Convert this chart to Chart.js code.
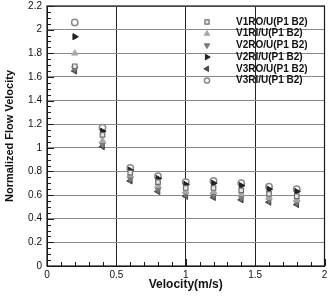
<!DOCTYPE html>
<html>
<head>
<meta charset="utf-8">
<script src="https://cdn.jsdelivr.net/npm/chart.js@4.4.1/dist/chart.umd.min.js"></script>
<style>
  html, body { margin: 0; padding: 0; background: #fff; }
  #wrap { width: 330px; height: 296px; }
</style>
</head>
<body>
<div id="wrap"><canvas id="chart" width="330" height="296"></canvas></div>
<script>
/* ---- data ---- */
const velocity = [0.2, 0.4, 0.6, 0.8, 1.0, 1.2, 1.4, 1.6, 1.8];
const v1ro = [1.69, 1.11, 0.79, 0.71, 0.66, 0.66, 0.64, 0.61, 0.59];
const v1ri = [1.80, 1.06, 0.77, 0.68, 0.63, 0.63, 0.61, 0.58, 0.56];
const v2ro = [1.67, 1.03, 0.74, 0.65, 0.61, 0.60, 0.58, 0.56, 0.54];
const v2ri = [1.94, 1.14, 0.81, 0.74, 0.69, 0.70, 0.68, 0.65, 0.63];
const v3ro = [1.65, 1.01, 0.72, 0.63, 0.59, 0.58, 0.56, 0.54, 0.52];
const v3ri = [2.06, 1.17, 0.83, 0.76, 0.71, 0.72, 0.70, 0.67, 0.65];

const seriesNames = ["V1RO/U(P1 B2)", "V1RI/U(P1 B2)", "V2RO/U(P1 B2)",
                     "V2RI/U(P1 B2)", "V3RO/U(P1 B2)", "V3RI/U(P1 B2)"];
const seriesValues = [v1ro, v1ri, v2ro, v2ri, v3ro, v3ri];

const xTicks = [0, 0.5, 1, 1.5, 2];
const yTicks = [0, 0.2, 0.4, 0.6, 0.8, 1, 1.2, 1.4, 1.6, 1.8, 2, 2.2];

/* ---- marker styles ---- */
const markerStyles = [
    { pointStyle: "rect",     rotation: 0,   bg: "#e6e6e6", border: "#6e6e6e", radius: 3.2, bw: 1.2 },
    { pointStyle: "triangle", rotation: 0,   bg: "#a8a8a8", border: "#a8a8a8", radius: 3.6, bw: 1 },
    { pointStyle: "triangle", rotation: 180, bg: "#7a7a7a", border: "#7a7a7a", radius: 3.6, bw: 1 },
    { pointStyle: "triangle", rotation: 90,  bg: "#222222", border: "#222222", radius: 3.6, bw: 1 },
    { pointStyle: "triangle", rotation: 270, bg: "#4a4a4a", border: "#4a4a4a", radius: 3.6, bw: 1 },
    { pointStyle: "circle",   rotation: 0,   bg: "#ffffff", border: "#8a8a8a", radius: 3.2, bw: 1.5 }
];

const FONT = "'Liberation Sans', Arial, sans-serif";

const datasets = seriesValues.map((vals, i) => ({
    label: seriesNames[i],
    data: velocity.map((x, k) => ({ x: x, y: vals[k] })),
    pointStyle: markerStyles[i].pointStyle,
    rotation: markerStyles[i].rotation,
    pointRadius: markerStyles[i].radius,
    pointBackgroundColor: markerStyles[i].bg,
    pointBorderColor: markerStyles[i].border,
    pointBorderWidth: markerStyles[i].bw,
    showLine: false
}));

/* --- frame + inward minor ticks --- */
const framePlugin = {
    id: "frame",
    afterDatasetsDraw(chart) {
        const { ctx, chartArea: a, scales } = chart;
        ctx.save();
        ctx.strokeStyle = "#1a1a1a";
        ctx.lineWidth = 1.2;
        ctx.strokeRect(a.left, a.top, a.right - a.left, a.bottom - a.top);
        ctx.lineWidth = 1;
        // x ticks every 0.1
        for (let i = 0; i <= 20; i++) {
            const px = Math.round(scales.x.getPixelForValue(i / 10)) + 0.5;
            const len = (i % 5 === 0) ? 7 : 4;
            ctx.beginPath();
            ctx.moveTo(px, a.bottom);
            ctx.lineTo(px, a.bottom - len);
            ctx.stroke();
        }
        // y ticks every 0.05
        for (let i = 0; i <= 44; i++) {
            const py = Math.round(scales.y.getPixelForValue(i / 20)) + 0.5;
            const len = (i % 4 === 0) ? 7 : 4;
            ctx.beginPath();
            ctx.moveTo(a.left, py);
            ctx.lineTo(a.left + len, py);
            ctx.stroke();
        }
        ctx.restore();
    }
};

/* --- legend inside the plot --- */
function drawMarker(ctx, st, x, y, r) {
    ctx.save();
    ctx.translate(x, y);
    ctx.rotate(st.rotation * Math.PI / 180);
    ctx.fillStyle = st.bg;
    ctx.strokeStyle = st.border;
    ctx.lineWidth = st.bw;
    ctx.beginPath();
    if (st.pointStyle === "rect") {
        ctx.rect(-r * 0.8, -r * 0.8, r * 1.6, r * 1.6);
    } else if (st.pointStyle === "circle") {
        ctx.arc(0, 0, r, 0, Math.PI * 2);
    } else {
        ctx.moveTo(0, -r);
        ctx.lineTo(r * 0.866, r * 0.5);
        ctx.lineTo(-r * 0.866, r * 0.5);
        ctx.closePath();
    }
    ctx.fill();
    ctx.stroke();
    ctx.restore();
}

const legendPlugin = {
    id: "innerLegend",
    afterDraw(chart) {
        const ctx = chart.ctx;
        ctx.save();
        ctx.font = "bold 10px " + FONT;
        ctx.fillStyle = "#111";
        ctx.textBaseline = "middle";
        ctx.textAlign = "left";
        seriesNames.forEach((name, i) => {
            const y = 22 + i * 11.7;
            const r = markerStyles[i].pointStyle === "triangle" ? 3.2 : 2.6;
            drawMarker(ctx, markerStyles[i], 207, y, r);
            ctx.fillText(name, 236, y);
        });
        ctx.restore();
    }
};

new Chart(document.getElementById("chart"), {
    type: "scatter",
    data: { datasets: datasets },
    options: {
        responsive: false,
        animation: false,
        devicePixelRatio: 1,
        layout: { padding: { top: 6, right: 3, left: 0, bottom: 0 } },
        plugins: {
            legend: { display: false },
            tooltip: { enabled: false }
        },
        scales: {
            x: {
                type: "linear",
                min: 0,
                max: 2,
                afterBuildTicks: s => { s.ticks = xTicks.map(v => ({ value: v })); },
                afterFit: s => { s.height = 30; s.paddingRight = 0; s.paddingLeft = 0; },
                ticks: {
                    padding: 3,
                    color: "#111",
                    font: { family: FONT, size: 10 },
                    maxRotation: 0,
                    callback: v => String(v)
                },
                grid: { color: "#222", lineWidth: 1, drawTicks: false },
                border: { display: true, color: "#1a1a1a" },
                title: {
                    display: true,
                    text: "Velocity(m/s)",
                    color: "#111",
                    font: { family: FONT, size: 12, weight: "bold" },
                    padding: { top: 0, bottom: 4 }
                }
            },
            y: {
                type: "linear",
                min: 0,
                max: 2.2,
                afterBuildTicks: s => { s.ticks = yTicks.map(v => ({ value: v })); },
                afterFit: s => { s.width = 47; s.paddingTop = 0; s.paddingBottom = 0; },
                ticks: {
                    padding: 5,
                    color: "#111",
                    font: { family: FONT, size: 10 },
                    callback: v => String(v)
                },
                grid: { color: "#8a8a8a", lineWidth: 1, drawTicks: false },
                border: { display: true, color: "#1a1a1a" },
                title: {
                    display: true,
                    text: "Normalized Flow Velocity",
                    color: "#111",
                    font: { family: FONT, size: 11, weight: "bold" },
                    padding: { top: 3, bottom: 0 }
                }
            }
        }
    },
    plugins: [framePlugin, legendPlugin]
});
</script>
</body>
</html>
